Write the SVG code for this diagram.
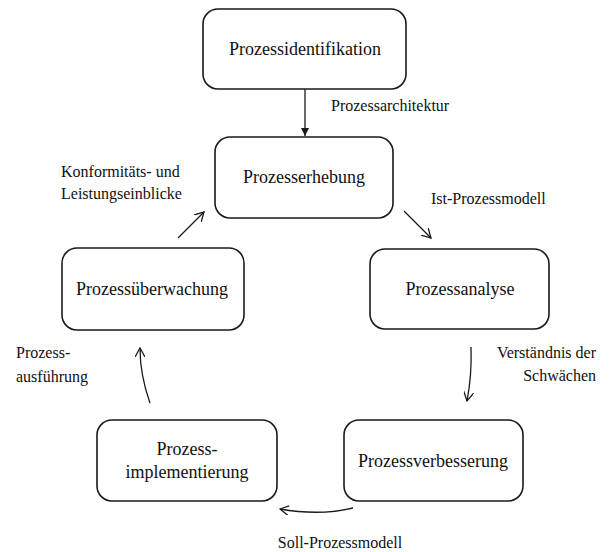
<svg xmlns="http://www.w3.org/2000/svg" width="614" height="552" viewBox="0 0 614 552">
<defs>
<style>
.box{fill:#fff;stroke:#1a1a1a;stroke-width:1.6}
.nt{font-family:'Liberation Serif','Times New Roman',Tinos,'DejaVu Serif',serif;font-size:18px;fill:#111;text-anchor:middle}
.lt{font-family:'Liberation Serif','Times New Roman',Tinos,'DejaVu Serif',serif;font-size:16px;fill:#111}
.c{fill:none;stroke:#1a1a1a;stroke-width:1.3}
</style>
<marker id="fa" viewBox="0 0 10 10" refX="10" refY="5" markerWidth="8" markerHeight="8" markerUnits="userSpaceOnUse" orient="auto"><path d="M0,0 L10,5 L0,10 z" fill="#1a1a1a"/></marker>
<marker id="va" viewBox="0 0 10 10" refX="9" refY="5" markerWidth="10" markerHeight="10" markerUnits="userSpaceOnUse" orient="auto"><path d="M0,0 L9,5 L0,10" fill="none" stroke="#1a1a1a" stroke-width="1.3"/></marker>
</defs>
<rect width="614" height="552" fill="#fff"/>
<g id="connectors">
<line class="c" x1="305" y1="89" x2="305" y2="136" marker-end="url(#fa)"/>
<line class="c" x1="404" y1="211" x2="431" y2="238" marker-end="url(#va)"/>
<path class="c" d="M471,347 Q472,375 467,401" marker-end="url(#va)"/>
<path class="c" d="M353,508 Q320,516 280,509" marker-end="url(#va)"/>
<path class="c" d="M150,403 Q140,375 140,348" marker-end="url(#va)"/>
<line class="c" x1="178" y1="238" x2="204" y2="212" marker-end="url(#va)"/>
</g>
<g id="n1"><rect class="box" x="203" y="9" width="203" height="80" rx="15"/><text class="nt" x="305" y="55">Prozessidentifikation</text></g>
<g id="n2"><rect class="box" x="215" y="137" width="178" height="81" rx="15"/><text class="nt" x="304" y="183">Prozesserhebung</text></g>
<g id="n3"><rect class="box" x="370" y="249" width="179" height="80" rx="15"/><text class="nt" x="460" y="295">Prozessanalyse</text></g>
<g id="n4"><rect class="box" x="344" y="420" width="179" height="81" rx="15"/><text class="nt" x="433" y="467">Prozessverbesserung</text></g>
<g id="n5"><rect class="box" x="97" y="420" width="180" height="81" rx="15"/><text class="nt" x="187" y="455">Prozess-</text><text class="nt" x="187" y="478">implementierung</text></g>
<g id="n6"><rect class="box" x="62" y="248" width="182" height="82" rx="15"/><text class="nt" x="152" y="295">Prozessüberwachung</text></g>
<g id="labels">
<text class="lt" x="331" y="111">Prozessarchitektur</text>
<text class="lt" x="431" y="204">Ist-Prozessmodell</text>
<text class="lt" x="596" y="358" text-anchor="end">Verständnis der</text>
<text class="lt" x="596" y="381" text-anchor="end">Schwächen</text>
<text class="lt" x="340" y="548" text-anchor="middle">Soll-Prozessmodell</text>
<text class="lt" x="16" y="358">Prozess-</text>
<text class="lt" x="16" y="382">ausführung</text>
<text class="lt" x="61" y="177">Konformitäts- und</text>
<text class="lt" x="61" y="199">Leistungseinblicke</text>
</g>
</svg>
